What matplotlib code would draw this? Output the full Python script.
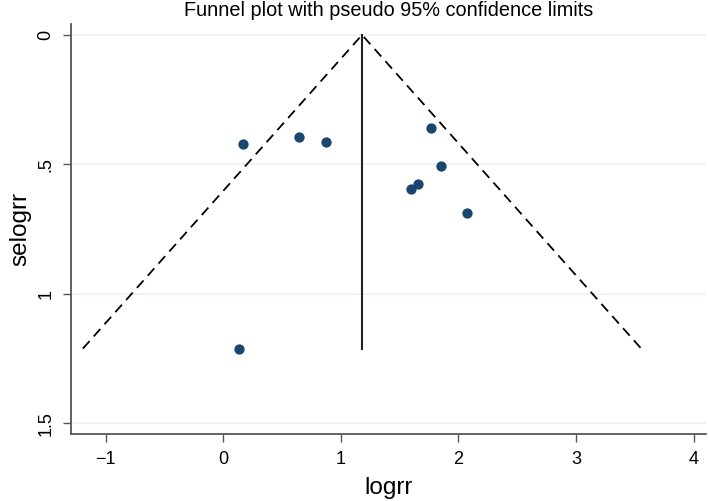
import matplotlib.pyplot as plt

plt.rcParams['font.family'] = ['Liberation Sans', 'DejaVu Sans']

# study estimates
logrr = [0.17, 0.646, 0.873, 1.769, 1.849, 1.653, 1.599, 2.072, 0.133]
selogrr = [0.42, 0.393, 0.414, 0.360, 0.506, 0.575, 0.595, 0.687, 1.211]

pooled = 1.18
se_max = 1.211
z = 1.96

x_ticks = [-1, 0, 1, 2, 3, 4]
y_ticks = [0, 0.5, 1, 1.5]
y_labels = ["0", ".5", "1", "1.5"]

fig = plt.figure(figsize=(7.09, 5.01), dpi=100)
ax = fig.add_axes([0.1001, 0.1337, 0.8957, 0.8183])

for y in y_ticks:
    ax.axhline(y, color="#eaf2f3", lw=1.2, zorder=0)

ax.plot([pooled - z * se_max, pooled, pooled + z * se_max], [se_max, 0, se_max],
        color="black", ls=(0, (5.5, 3.5)), lw=1.3)
ax.plot([pooled, pooled], [0, se_max], color="#222222", lw=1.5)

ax.scatter(logrr, selogrr, s=55, color="#1a476f", zorder=3, linewidths=0)

ax.set_xlim(-1.295, 4.105)
ax.set_ylim(1.541, -0.042)
ax.set_xticks(x_ticks)
ax.set_yticks(y_ticks)
ax.set_yticklabels(y_labels, rotation=90, va="center")
ax.tick_params(axis="both", labelsize=13, length=6, width=1, color="#555555")
ax.tick_params(axis="x", pad=6)
ax.tick_params(axis="y", pad=6)

for side in ["top", "right"]:
    ax.spines[side].set_visible(False)
for side in ["left", "bottom"]:
    ax.spines[side].set_color("#555555")
    ax.spines[side].set_linewidth(1.3)

ax.set_xlabel("logrr", fontsize=17.5, labelpad=7)
ax.set_ylabel("selogrr", fontsize=17.5, labelpad=4)
fig.text(0.5475, 0.968, "Funnel plot with pseudo 95% confidence limits",
         fontsize=14.3, ha="center", va="baseline")

fig.savefig("out.png", dpi=100)
